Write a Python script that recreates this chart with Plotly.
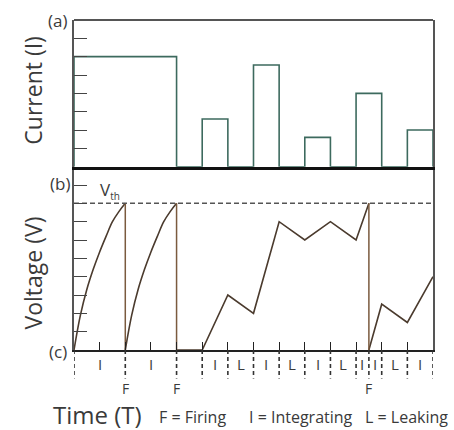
import plotly.graph_objects as go

# ---------------- data ----------------
# Current pulses (panel a): start time, end time, amplitude
pulse_start = [0, 5, 7, 9, 11, 13]
pulse_end = [4, 6, 8, 10, 12, 14]
pulse_amp = [6, 2.6, 5.55, 1.6, 4, 2]

# Voltage (panel b): integrating curves before firing
rise1_t = [0, 0.25, 0.5, 0.75, 1.0, 1.25, 1.5, 1.75, 2.0]
rise1_v = [0, 1.9, 3.3, 4.4, 5.35, 6.2, 7.0, 7.55, 8.0]
rise2_t = [2, 2.25, 2.5, 2.75, 3.0, 3.25, 3.5, 3.75, 4.0]
rise2_v = [0, 1.9, 3.3, 4.4, 5.35, 6.2, 7.0, 7.55, 8.0]
# piecewise-linear integrate / leak phases
lin1_t = [4, 5, 6, 7, 8, 9, 10, 11, 11.5]
lin1_v = [0, 0, 3, 2, 7, 6, 7, 6, 8]
lin2_t = [11.5, 12, 13, 14]
lin2_v = [0, 2.5, 1.5, 4]

v_th = 8
fire_times = [2, 4, 11.5]

# phase annotations
phase_x = [1, 3, 5.5, 6.5, 7.5, 8.5, 9.5, 10.5, 11.25, 11.75, 12.5, 13.5]
phase_lbl = ["I", "I", "I", "L", "I", "L", "I", "L", "I", "I", "L", "I"]
divider_x = [0, 2, 4, 5, 6, 7, 8, 9, 10, 11, 11.5, 12, 13, 14]
time_ticks = [1, 2, 3, 4, 5, 6, 7, 8, 9, 10, 11, 12, 13]
cur_ticks = [1, 2, 3, 4, 5, 6, 7]
volt_ticks = [1, 2, 3, 4, 5, 6, 7, 8, 9]
legend_parts = ["F = Firing", "I = Integrating", "L = Leaking"]

# ---------------- styles ----------------
FONT = "Open Sans"
TXT = "#3a3a3a"
CUR_COL = "#3d6a5e"
V_COL = "#4b3b2e"
DROP_COL = "#7a5a3e"

# step representation of the current pulses
cur_x, cur_y = [], []
for s, e, a in zip(pulse_start, pulse_end, pulse_amp):
    cur_x += [s, s, e, e]
    cur_y += [0, a, a, 0]

fig = go.Figure()

fig.add_trace(go.Scatter(x=cur_x, y=cur_y, mode="lines",
                         line=dict(color=CUR_COL, width=1.6),
                         xaxis="x2", yaxis="y2", hoverinfo="skip"))

for tx, vy in [(rise1_t, rise1_v), (rise2_t, rise2_v)]:
    fig.add_trace(go.Scatter(x=tx, y=vy, mode="lines",
                             line=dict(color=V_COL, width=1.6, shape="spline"),
                             xaxis="x", yaxis="y", hoverinfo="skip"))
for tx, vy in [(lin1_t, lin1_v), (lin2_t, lin2_v)]:
    fig.add_trace(go.Scatter(x=tx, y=vy, mode="lines",
                             line=dict(color=V_COL, width=1.6),
                             xaxis="x", yaxis="y", hoverinfo="skip"))

drop_x, drop_y = [], []
for f in fire_times:
    drop_x += [f, f, None]
    drop_y += [v_th, 0, None]
fig.add_trace(go.Scatter(x=drop_x, y=drop_y, mode="lines",
                         line=dict(color=DROP_COL, width=1.5),
                         xaxis="x", yaxis="y", hoverinfo="skip"))

# threshold line
fig.add_trace(go.Scatter(x=[0, 14], y=[v_th, v_th], mode="lines",
                         line=dict(color="#555555", width=1.5, dash="5px,3px"),
                         xaxis="x", yaxis="y", hoverinfo="skip"))

shapes = []
# dashed dividers below time axis
for d in divider_x:
    shapes.append(dict(type="line", xref="x", yref="y domain", x0=d, x1=d,
                       y0=0, y1=-0.155,
                       line=dict(color="#333333", width=1.6, dash="4px,3px")))
# top border
shapes.append(dict(type="line", xref="paper", yref="paper", x0=0, x1=1, y0=1, y1=1,
                   line=dict(color="#555555", width=1.8)))


def A(x, y, text, size, xref="paper", angle=0, xanchor="center"):
    return dict(x=x, y=y, xref=xref, yref="paper", text=text, showarrow=False,
                xanchor=xanchor, yanchor="middle", textangle=angle,
                font=dict(family=FONT, size=size, color=TXT))


ann = []
for x, t in zip(phase_x, phase_lbl):
    ann.append(A(x, -0.0424, t, 15, xref="x"))
for f in fire_times:
    ann.append(A(f, -0.118, "F", 14, xref="x"))

legend_x = [0.2312, 0.4819, 0.805]
for lx, lt in zip(legend_x, legend_parts):
    ann.append(A(lx, -0.203, lt, 16, xanchor="left"))

ann += [
    A(-0.115, 0.788, "Current (I)", 23, angle=-90),
    A(-0.113, 0.233, "Voltage (V)", 23, angle=-90),
    A(0.0655, -0.196, "Time (T)", 24),
    A(-0.047, 1.0, "(a)", 17),
    A(-0.039, 0.506, "(b)", 17),
    A(-0.045, -0.006, "(c)", 17),
    A(0.1, 0.484, "V<sub><span style='font-size:10px'>th</span></sub>", 17),
]

split = 183.3 / 330

axis_common = dict(showgrid=False, zeroline=False, showticklabels=False)

fig.update_layout(
    width=454, height=430,
    margin=dict(l=74, r=21, t=20, b=80),
    paper_bgcolor="white", plot_bgcolor="white",
    showlegend=False,
    xaxis=dict(domain=[0, 1], anchor="y", range=[0, 14], showline=True,
               linecolor="#222222", linewidth=1.6, ticks="inside",
               tickvals=time_ticks, ticklen=8, tickwidth=1.4, tickcolor="#222222",
               **axis_common),
    xaxis2=dict(domain=[0, 1], anchor="y2", range=[0, 14], showline=True,
                linecolor="#111111", linewidth=2.6, ticks="", **axis_common),
    yaxis=dict(domain=[0, split], anchor="x", range=[0, 10], showline=True,
               mirror=True, linecolor="#555555", linewidth=1.8, ticks="inside",
               tickvals=volt_ticks, ticklen=13, tickwidth=1.4, tickcolor="#444444",
               **axis_common),
    yaxis2=dict(domain=[split, 1], anchor="x2", range=[0, 8], showline=True,
                mirror=True, linecolor="#555555", linewidth=1.8, ticks="inside",
                tickvals=cur_ticks, ticklen=13, tickwidth=1.4, tickcolor="#444444",
                **axis_common),
    shapes=shapes,
    annotations=ann,
)

fig.write_html("out.html", config={"displayModeBar": False},
               post_script="document.body.style.margin='0px';")
